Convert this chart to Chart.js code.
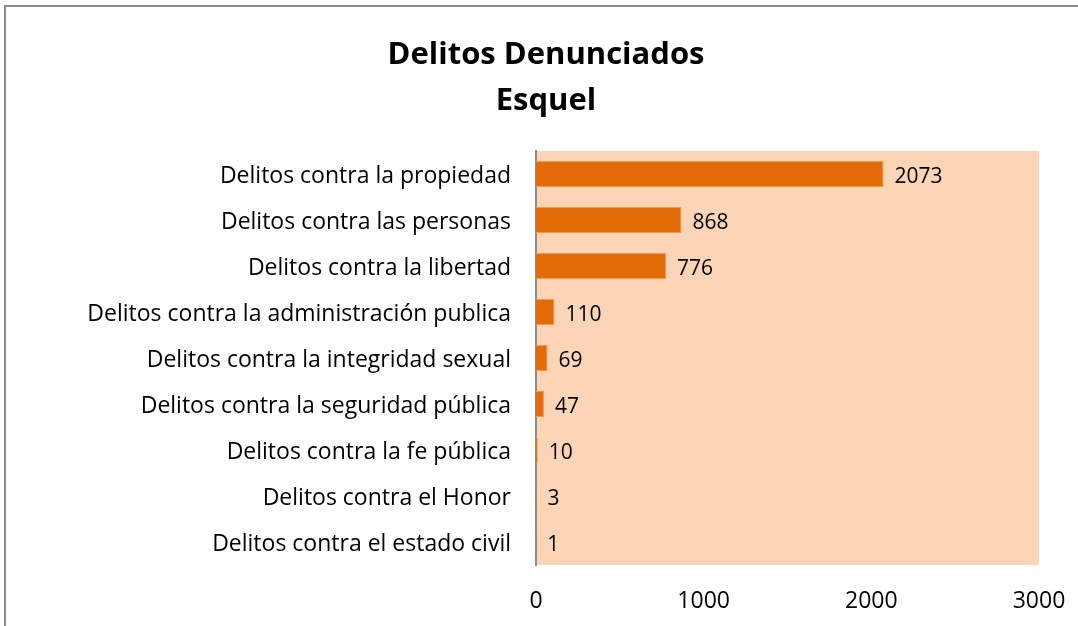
<!DOCTYPE html>
<html lang="es">
<head>
  <meta charset="UTF-8">
  <title>Delitos Denunciados Esquel</title>
  <script src="https://cdn.jsdelivr.net/npm/chart.js"></script>
  <style>
    * { box-sizing: border-box; }
    html, body { margin: 0; padding: 0; background: #fff; overflow: hidden; }
    .frame { position: absolute; left: 4px; top: 5px; width: 1200px; height: 800px; border: 2px solid #8c8c8c; }
    .wrap { position: absolute; left: 0; top: 0; width: 1078px; height: 626px; }
  </style>
</head>
<body>
  <div class="frame"></div>
  <div class="wrap"><canvas id="chart"></canvas></div>
  <script>
    const categorias = [
      'Delitos contra la propiedad',
      'Delitos contra las personas',
      'Delitos contra la libertad',
      'Delitos contra la administración publica',
      'Delitos contra la integridad sexual',
      'Delitos contra la seguridad pública',
      'Delitos contra la fe pública',
      'Delitos contra el Honor',
      'Delitos contra el estado civil'
    ];
    const denuncias = [2073, 868, 776, 110, 69, 47, 10, 3, 1];
    const ticksX = [0, 1000, 2000, 3000];
    const FUENTE = '"Open Sans", sans-serif';

    // fondo del area de trazado y etiquetas de valor
    const fondoPlot = {
      id: 'fondoPlot',
      beforeDraw(chart) {
        const { ctx, chartArea: a } = chart;
        ctx.save();
        ctx.fillStyle = '#fbd5b5';
        ctx.fillRect(a.left, a.top, a.right - a.left, a.bottom - a.top);
        ctx.restore();
      }
    };
    const etiquetas = {
      id: 'etiquetas',
      afterDatasetsDraw(chart) {
        const { ctx } = chart;
        const meta = chart.getDatasetMeta(0);
        ctx.save();
        ctx.font = '21px ' + FUENTE;
        ctx.fillStyle = '#000';
        ctx.textBaseline = 'middle';
        ctx.textAlign = 'left';
        meta.data.forEach((bar, i) => {
          ctx.fillText(String(denuncias[i]), bar.x + 11, bar.y + 3);
        });
        ctx.restore();
      }
    };

    new Chart(document.getElementById('chart'), {
      type: 'bar',
      data: {
        labels: categorias,
        datasets: [{
          data: denuncias,
          backgroundColor: '#e36c09',
          borderColor: '#f59a4e',
          borderWidth: 1,
          categoryPercentage: 1,
          barPercentage: 0.57
        }]
      },
      options: {
        indexAxis: 'y',
        responsive: true,
        maintainAspectRatio: false,
        animation: false,
        layout: { padding: { left: 53, right: 39, top: 0, bottom: 0 } },
        plugins: {
          legend: { display: false },
          tooltip: { enabled: false },
          title: {
            display: true,
            text: ['Delitos Denunciados', 'Esquel'],
            color: '#000',
            font: { family: FUENTE, size: 31, weight: 'bold', lineHeight: 1.484 },
            padding: { top: 32, bottom: 27 }
          }
        },
        scales: {
          x: {
            min: 0, max: 3000,
            afterBuildTicks: s => { s.ticks = ticksX.map(v => ({ value: v })); },
            afterFit: s => { s.height = 61; s.paddingLeft = 0; s.paddingRight = 0; },
            grid: { display: false, drawTicks: false },
            border: { display: false },
            ticks: { color: '#000', padding: 23, font: { family: FUENTE, size: 23 }, callback: v => String(v) }
          },
          y: {
            afterFit: s => { s.width = 483; },
            grid: { display: false, drawTicks: false },
            border: { display: true, color: '#8c8c8c', width: 2 },
            ticks: { color: '#000', padding: 25, labelOffset: 2, font: { family: FUENTE, size: 23 } }
          }
        }
      },
      plugins: [fondoPlot, etiquetas]
    });
  </script>
</body>
</html>
